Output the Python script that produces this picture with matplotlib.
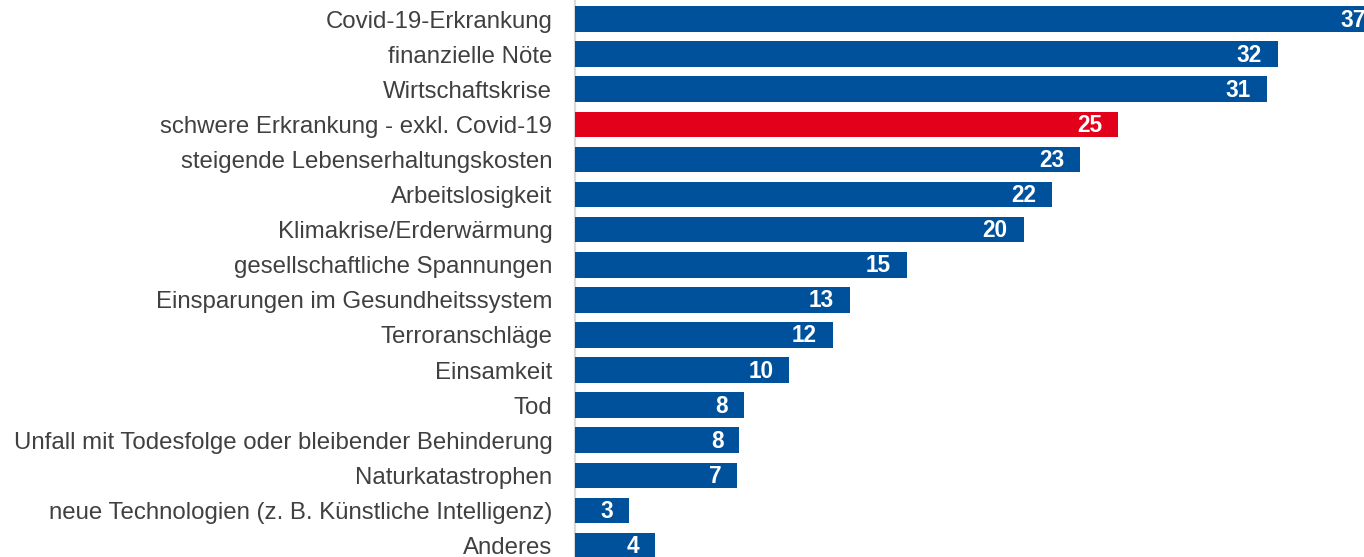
import matplotlib.pyplot as plt

# Kategorien (von oben nach unten)
kategorien = [
    "Covid-19-Erkrankung",
    "finanzielle Nöte",
    "Wirtschaftskrise",
    "schwere Erkrankung - exkl. Covid-19",
    "steigende Lebenserhaltungskosten",
    "Arbeitslosigkeit",
    "Klimakrise/Erderwärmung",
    "gesellschaftliche Spannungen",
    "Einsparungen im Gesundheitssystem",
    "Terroranschläge",
    "Einsamkeit",
    "Tod",
    "Unfall mit Todesfolge oder bleibender Behinderung",
    "Naturkatastrophen",
    "neue Technologien (z. B. Künstliche Intelligenz)",
    "Anderes",
]
# Balkenlängen
werte = [37.2, 32.4, 31.9, 25.05, 23.3, 22.0, 20.7, 15.3, 12.7, 11.9, 9.9, 7.8, 7.6, 7.5, 2.5, 3.7]
# angezeigte Beschriftungen
beschriftung = ["37", "32", "31", "25", "23", "22", "20", "15", "13", "12", "10", "8", "8", "7", "3", "4"]
hervorgehoben = "schwere Erkrankung - exkl. Covid-19"

BLAU = "#00519c"
ROT = "#e2001a"

W, H = 1364, 557
fig = plt.figure(figsize=(W / 100, H / 100), dpi=100)
plt.rcParams['font.family'] = ['Liberation Sans', 'DejaVu Sans']

pitch = 35.1
ax_left = 574.5
ax_top = 1.5
ax_h = pitch * len(kategorien)
ax = fig.add_axes([ax_left / W, (H - ax_top - ax_h) / H, (W - ax_left) / W, ax_h / H])

farben = [ROT if k == hervorgehoben else BLAU for k in kategorien]
y = list(range(len(kategorien)))
ax.barh(y, werte, height=0.73, color=farben, edgecolor='none', zorder=1)

ax.set_xlim(0, (W - ax_left) / 21.7)
ax.set_ylim(len(kategorien) - 0.5, -0.5)

for yi, w, t in zip(y, werte, beschriftung):
    ax.annotate(t, (w, yi), xytext=(-16, -1), textcoords='offset pixels',
                ha='right', va='center', color='white', fontsize=16.3,
                fontweight='bold', annotation_clip=False)

ax.set_yticks(y)
ax.set_yticklabels(kategorien, fontsize=17.3, color='#404040')
ax.tick_params(axis='y', length=0, pad=16)
ax.set_xticks([])

for s in ['top', 'right', 'bottom']:
    ax.spines[s].set_visible(False)
ax.spines['left'].set_color('#d9d9d9')
ax.spines['left'].set_linewidth(1.6)
ax.spines['left'].set_zorder(0)

fig.savefig("out.png", dpi=100)
